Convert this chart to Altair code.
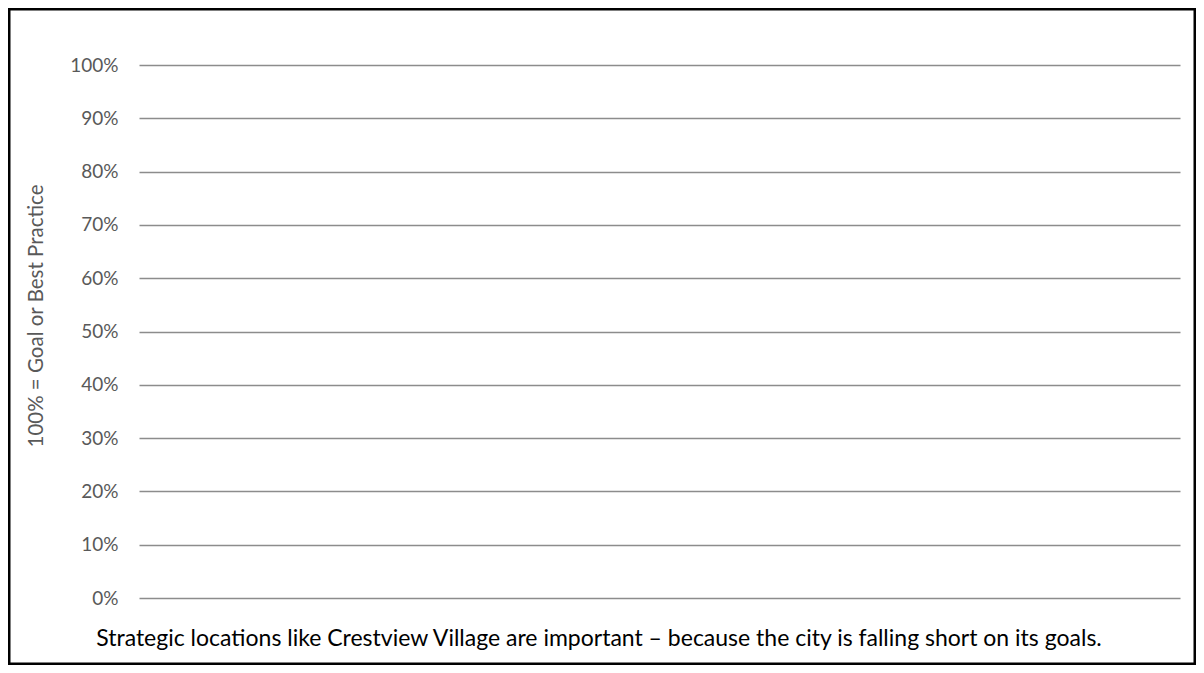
import altair as alt
import pandas as pd

# Data
tick_values = [0.0, 0.1, 0.2, 0.3, 0.4, 0.5, 0.6, 0.7, 0.8, 0.9, 1.0]
y_title = ["100% = Goal or Best Practice"]
caption = ["Strategic locations like Crestview Village are important \u2013 because the city is falling short on its goals."]

FONT = "Lato"
W, H = 1041, 533
PL, PT, PR, PB = 131, 57, 16, 67

df = pd.DataFrame({"v": tick_values})

base = alt.Chart(df).mark_point(opacity=0).encode(
    y=alt.Y(
        "v:Q",
        scale=alt.Scale(domain=[0, 1], nice=False),
        axis=alt.Axis(
            values=tick_values,
            format=".0%",
            title=None,
            domain=False,
            ticks=False,
            tickSize=0,
            labelPadding=21,
            labelFont=FONT,
            labelFontSize=19,
            labelColor="#595959",
            grid=True,
            gridColor="#8c8c8c",
            gridWidth=1.6,
        ),
    )
)

title_df = pd.DataFrame({"t": y_title})
ytitle = alt.Chart(title_df).mark_text(
    angle=270, align="center", baseline="middle",
    font=FONT, fontSize=20.5, color="#595959",
).encode(x=alt.value(-102), y=alt.value(251), text="t:N")

cap_df = pd.DataFrame({"t": caption})
cap = alt.Chart(cap_df).mark_text(
    align="center", baseline="alphabetic",
    font=FONT, fontSize=23, color="#000000",
).encode(x=alt.value(460), y=alt.value(581), text="t:N")

border = alt.Chart(pd.DataFrame({"a": [0]})).mark_rect(
    fill="transparent", stroke="black", strokeWidth=2.5
).encode(
    x=alt.value(-PL + 1.25), x2=alt.value(W + PR - 1.25),
    y=alt.value(-PT + 1.25), y2=alt.value(H + PB - 1.25),
)

chart = alt.layer(base, ytitle, cap, border).properties(
    width=W, height=H,
    autosize=alt.AutoSizeParams(type="none"),
    padding={"left": PL, "top": PT, "right": PR, "bottom": PB},
    background="white",
).configure_view(stroke="transparent")

chart.save("out.html", embed_options={"renderer": "svg", "actions": False})
